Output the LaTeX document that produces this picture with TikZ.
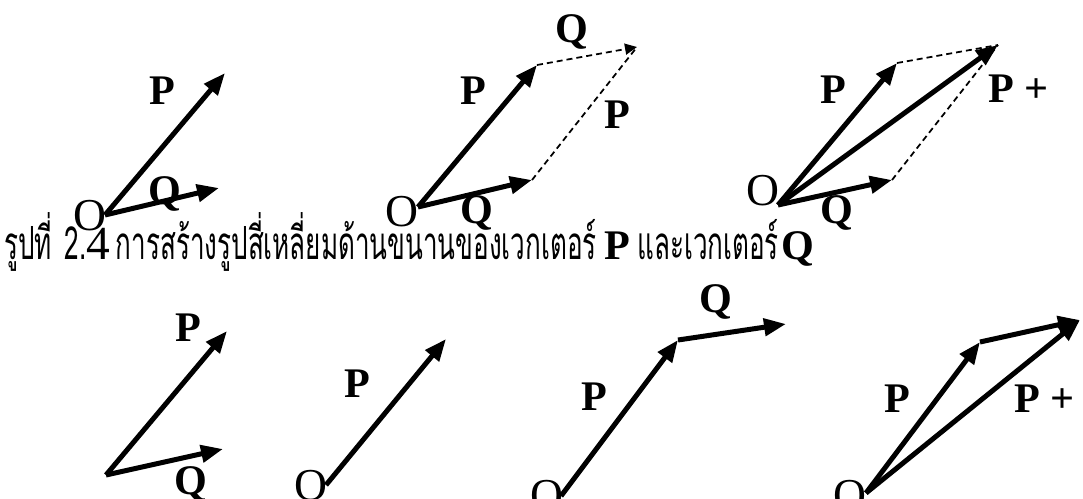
\documentclass[tikz,border=0pt]{standalone}
\usepackage{fontspec}
\setmainfont{Liberation Serif}
\newfontfamily\thaifont[Script=Thai]{Loma}
\usetikzlibrary{arrows.meta}
\newcommand{\thaitxt}[1]{{\thaifont\fontsize{26}{26}\selectfont\scalebox{0.57}[1]{#1}}}

\begin{document}
\begin{tikzpicture}[x=0.02cm, y=-0.02cm,
  vec/.style={-{Triangle[length=0.44cm, width=0.34cm]}, line width=0.1cm},
  guide/.style={line width=1pt, dash pattern=on 0.12cm off 0.08cm},
  lbl/.style={font=\fontsize{24}{24}\selectfont\bfseries, anchor=base, inner sep=0pt},
  orig/.style={font=\fontsize{26}{26}\selectfont, anchor=base, inner sep=0pt}]
\useasboundingbox (0,0) rectangle (1083,498);
%% ---- Panel 1: P and Q from O ----
\coordinate (O1) at (105,215);
\coordinate (P1) at (225,73);
\coordinate (Q1) at (219,188);
\draw[vec] (O1) -- (P1);
\draw[vec] (O1) -- (Q1);
\node[orig] (o1) at (90,230) {O};
\node[lbl] (p1) at (162,104) {P};
\node[lbl] (q1) at (165,204) {Q};
%% ---- Panel 2: dashed parallelogram ----
\coordinate (O2) at (418,207);
\coordinate (P2) at (537,65);
\coordinate (Q2) at (532,180);
\coordinate (S2) at (637,47);
\draw[vec] (O2) -- (P2);
\draw[vec] (O2) -- (Q2);
\draw[guide, -{Triangle[length=0.24cm, width=0.22cm]}] (P2) -- (S2);
\draw[guide] (Q2) -- (S2);
\node[orig] (o2) at (402,226) {O};
\node[lbl] (p2) at (473,104) {P};
\node[lbl] (q2) at (477,223) {Q};
\node[lbl] (q2b) at (572,42) {Q};
\node[lbl] (p2b) at (617,128) {P};
%% ---- Panel 3: diagonal P + Q ----
\coordinate (O3) at (778,205);
\coordinate (P3) at (897,63);
\coordinate (Q3) at (892,180);
\coordinate (S3) at (998,45);
\draw[vec] (O3) -- (P3);
\draw[vec] (O3) -- (Q3);
\draw[guide] (P3) -- (S3);
\draw[guide] (Q3) -- (S3);
\draw[vec] (O3) -- (S3);
\node[orig] (o3) at (763,205) {O};
\node[lbl] (p3) at (833,103) {P};
\node[lbl] (q3) at (837,223) {Q};
\node[lbl, anchor=base west] (s3) at (988,102) {P +};
%% ---- caption ----
\node[anchor=base west, inner sep=0pt] (cap) at (4,259)
  {\thaitxt{รูปที่}\hspace{0.25cm}\thaitxt{2.}{\fontsize{27}{27}\selectfont 4}\hspace{0.12cm}\thaitxt{การสร้างรูปสี่เหลี่ยมด้านขนานของเวกเตอร์}\hspace{0.15cm}{\fontsize{24}{24}\selectfont\bfseries P}\hspace{0.15cm}\thaitxt{และเวกเตอร์}\hspace{0.05cm}{\fontsize{24}{24}\selectfont\bfseries Q}};
%% ---- Panel 4: P and Q, free ----
\coordinate (O4) at (106,475);
\coordinate (P4) at (227,331);
\coordinate (Q4) at (223,449);
\draw[vec] (O4) -- (P4);
\draw[vec] (O4) -- (Q4);
\node[lbl] (p4) at (188,341) {P};
\node[lbl] (q4) at (191,494) {Q};
%% ---- Panel 5: P from O ----
\coordinate (O5) at (326,485);
\coordinate (P5) at (446,339);
\draw[vec] (O5) -- (P5);
\node[orig] (o5) at (311,500) {O};
\node[lbl] (p5) at (357,397) {P};
%% ---- Panel 6: Q placed at tip of P ----
\coordinate (O6) at (561,496);
\coordinate (P6) at (678,340);
\coordinate (Q6) at (786,324);
\draw[vec] (O6) -- (P6);
\draw[vec] (P6) -- (Q6);
\node[orig] (o6) at (547,510) {O};
\node[lbl] (p6) at (594,410) {P};
\node[lbl] (q6) at (716,312) {Q};
%% ---- Panel 7: triangle rule ----
\coordinate (O7) at (866,493);
\coordinate (P7) at (980,342);
\coordinate (S7) at (1080,320);
\draw[vec] (O7) -- (P7);
\draw[vec] (P7) -- (S7);
\draw[vec] (O7) -- (S7);
\node[orig] (o7) at (850,510) {O};
\node[lbl] (p7) at (897,412) {P};
\node[lbl, anchor=base west] (s7) at (1014,412) {P +};
\end{tikzpicture}
\end{document}
